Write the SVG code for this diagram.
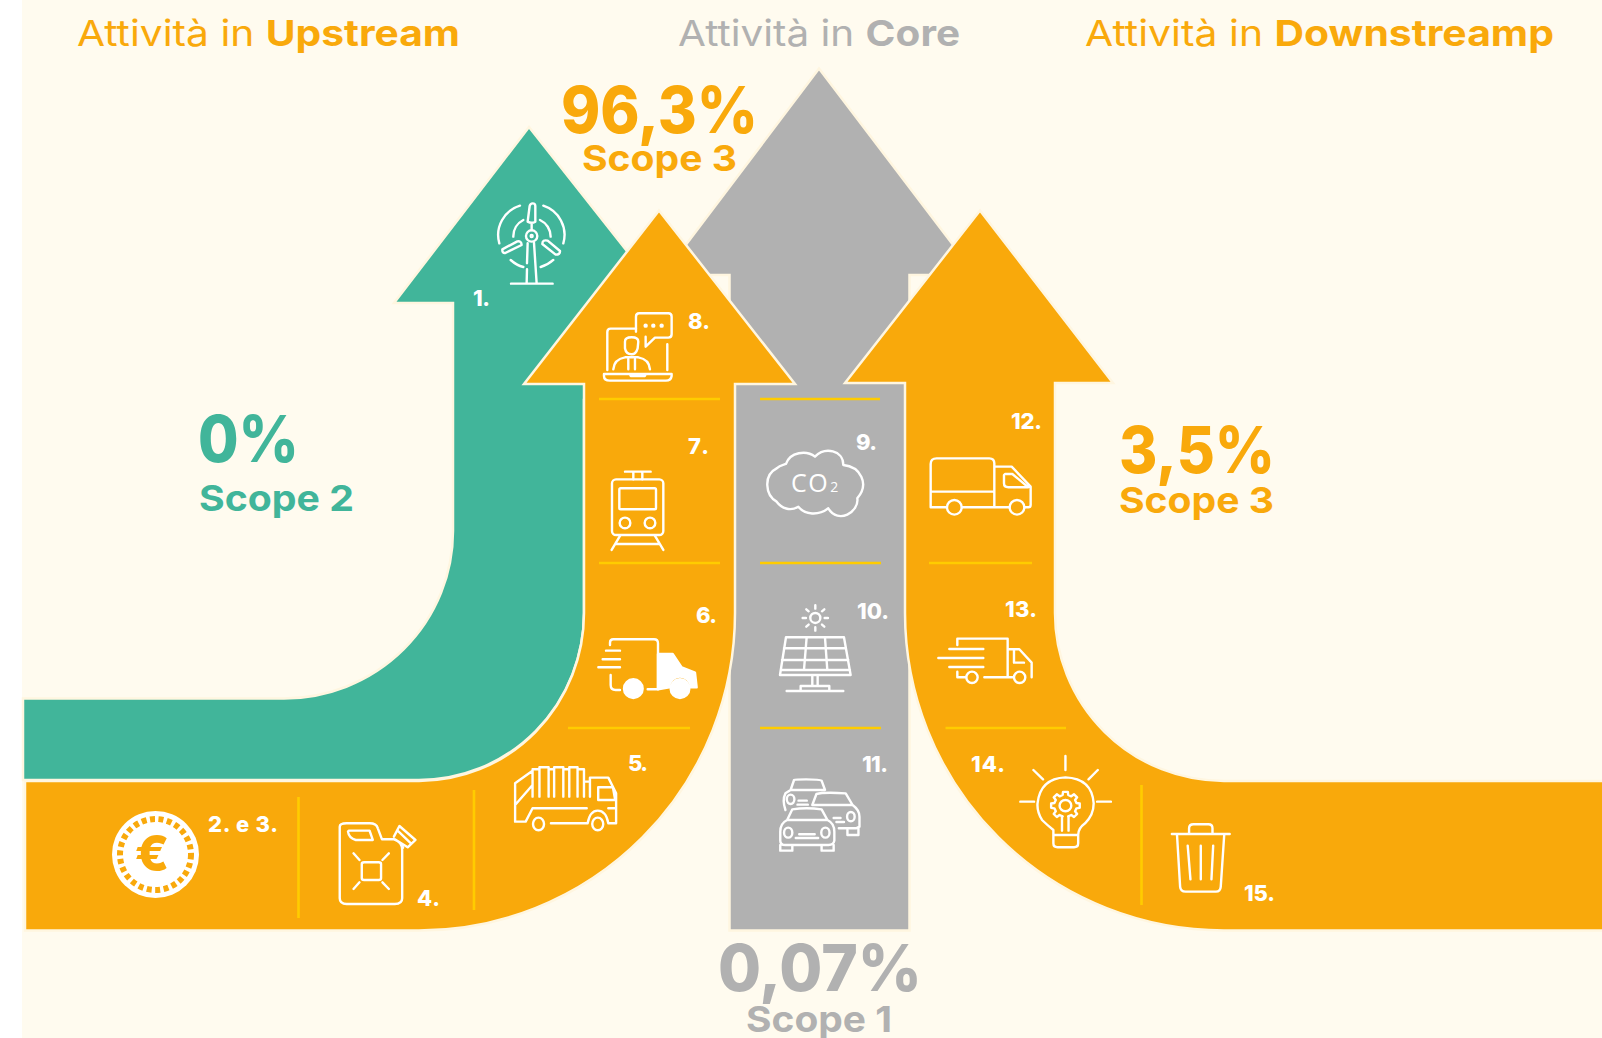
<svg xmlns="http://www.w3.org/2000/svg" width="1602" height="1038" viewBox="0 0 1602 1038">
<style>
text{font-family:Inter,"Open Sans","Liberation Sans",sans-serif}
.h{font-size:36px;font-weight:400}
.b{font-weight:700}
.big{font-size:64px;font-weight:800}
.sc{font-size:36px;font-weight:700}
.n{font-size:22px;font-weight:800;fill:#fff}
.or{fill:#f9a90b}.gr{fill:#41b59a}.gy{fill:#b1b1b1}
.i,.i *{fill:none;stroke:#fff;stroke-width:2.400;stroke-linecap:round;stroke-linejoin:round;vector-effect:non-scaling-stroke}
.i .f{fill:#fff}
.d{stroke:#ffcc00;stroke-width:2.600;fill:none}
.e{stroke:#fff6e0;stroke-width:2.500}
</style>
<rect width="1602" height="1038" fill="#fff"/>
<rect x="22" width="1580" height="1038" fill="#fffbef"/>
<g id="core-arrow"><path class="e" style="fill:#b1b1b1" d="M819 68.500L976 275H909.500V930.500H729.500V275H663Z"/></g>
<g id="upstream-green"><path class="e" style="fill:#41b59a" d="M529 127L668 303V400H584V613A165 167 0 0 1 419 780H23V698.500H284A169 167.500 0 0 0 453 531V303H394Z"/></g>
<g id="upstream-orange"><path class="e" style="fill:#f9a90b" d="M659 210.500L795 384H735V613A316 317.500 0 0 1 419 930.500H25V781H419A165 168 0 0 0 584 613V384H524Z"/></g>
<g id="downstream-orange"><path class="e" style="fill:#f9a90b" d="M980 210.500L1113 383H1055V613A169 168 0 0 0 1224 781H1604V930.500H1224A319 317.500 0 0 1 905 613V383H845Z"/></g>
<g id="dividers">
<path class="d" d="M599 399H720M760 399H880M599 563H720M760 563H881M929 563H1032M568 728H690M760 728H881M945.500 728H1066M298.500 797V918M474 790V910M1141.500 785V905"/>
</g>
<g id="titles">
<text class="h or" x="77" y="46" textLength="383" lengthAdjust="spacingAndGlyphs">Attività in <tspan class="b">Upstream</tspan></text>
<text class="h gy" x="678" y="46" textLength="282" lengthAdjust="spacingAndGlyphs">Attività in <tspan class="b">Core</tspan></text>
<text class="h or" x="1085" y="46" textLength="469" lengthAdjust="spacingAndGlyphs">Attività in <tspan class="b">Downstreamp</tspan></text>
</g>
<g id="scope-upstream"><text class="big or" x="561" y="133" textLength="197" lengthAdjust="spacingAndGlyphs">96,3%</text><text class="sc or" x="582" y="171" textLength="155" lengthAdjust="spacingAndGlyphs">Scope 3</text></g>
<g id="scope-2"><text class="big gr" x="198" y="462" textLength="101" lengthAdjust="spacingAndGlyphs">0%</text><text class="sc gr" x="199" y="511" textLength="155" lengthAdjust="spacingAndGlyphs">Scope 2</text></g>
<g id="scope-downstream"><text class="big or" x="1119" y="473" textLength="156" lengthAdjust="spacingAndGlyphs">3,5%</text><text class="sc or" x="1119" y="513" textLength="155" lengthAdjust="spacingAndGlyphs">Scope 3</text></g>
<g id="scope-1"><text class="big gy" x="718" y="991" textLength="204" lengthAdjust="spacingAndGlyphs">0,07%</text><text class="sc gy" x="746" y="1032" textLength="146" lengthAdjust="spacingAndGlyphs">Scope 1</text></g>

<g id="item-1"><text class="n" x="473" y="306" textLength="17">1.</text>
<g class="i" transform="translate(380 120) scale(.3333)">
<path d="M443 305L449 258Q451 250 458 250Q466 250 466 258V305Q455 312 443 305ZM455 312V330"/><circle cx="455" cy="348" r="17"/><circle cx="455" cy="348" r="3"/>
<path d="M425 375L376 399Q366 400 367 388L412 364Q424 362 425 375ZM487 372L527 404Q541 404 540 393L503 362Q487 358 487 372Z"/>
<path d="M443 370L441 430M441 448L440 490M462 368L470 490M393 491H518M420 257A92 92 0 0 0 358 370M490 257A92 92 0 0 1 550 370M430 300A55 55 0 0 0 400 350M480 300A55 55 0 0 1 512 350M392 420Q410 436 430 441M482 441Q505 434 520 420"/>
</g></g>
<g id="item-8"><text class="n" x="688" y="329" textLength="22">8.</text>
<g class="i" transform="translate(380 120) scale(.3333)">
<path d="M768 635V590Q768 580 778 580H865Q875 580 875 590V643Q875 653 865 653H825L797 680V650"/>
<circle class="f" cx="797" cy="617" r="3"/><circle class="f" cx="820" cy="617" r="3"/><circle class="f" cx="845" cy="617" r="3"/>
<path d="M768 626H692Q682 626 682 636V750M862 673V750M735 665Q735 652 755 652Q775 652 775 665L773 685Q768 703 755 703Q738 703 735 685ZM700 748Q702 718 735 712H775Q808 718 810 748M745 718V748M765 718V748M672 762H875V768Q873 782 858 782H690Q672 782 672 768ZM750 762L752 768H795L797 762"/>
</g></g>
<g id="item-7"><text class="n" x="688" y="454" textLength="21">7.</text>
<g class="i" transform="translate(580 400) scale(.3333)">
<rect x="96" y="238" width="154" height="167" rx="12"/><rect x="118" y="265" width="110" height="63" rx="4"/><circle cx="135" cy="369" r="16"/><circle cx="210" cy="369" r="16"/>
<path d="M135 215H212M160 215V238M187 215V238M120 408L95 450M225 408L250 450M108 432H238"/>
</g></g>
<g id="item-6"><text class="n" x="696" y="623" textLength="21">6.</text>
<g class="i" transform="translate(580 400) scale(.3333)">
<path d="M92 825V855Q92 870 107 870H120M90 735V728Q90 718 100 718H222Q234 718 234 730V868H203M78 752H120M68 778H120M55 802H120"/>
<path class="f" d="M234 762H278L305 802L345 818L350 862H332A32 32 0 0 0 268 862L234 868Z"/>
<circle class="f" cx="160" cy="866" r="28"/><circle class="f" cx="300" cy="866" r="28"/>
</g></g>
<g id="item-5"><text class="n" x="628" y="771" textLength="20">5.</text>
<g class="i" transform="translate(0 680) scale(.4591 .3333)">
<path d="M1122 310V425H1145L1160 385H1278M1122 310L1160 272V350M1122 375L1160 315M1160 268H1175V262H1195V268H1207V262H1227V268H1240V262H1258V268H1272V350M1175 265V350M1195 265V350M1207 265V350M1227 265V350M1240 265V350M1258 265V350M1272 305H1285V293H1325L1342 340V430H1325M1303 322H1335L1340 360H1303ZM1285 300V350M1280 430Q1285 392 1302 392Q1320 392 1325 430M1200 430H1280M1325 385H1342"/>
<ellipse cx="1173" cy="432" rx="12" ry="19"/><ellipse cx="1302" cy="432" rx="12" ry="19"/>
</g></g>
<g id="item-4"><text class="n" x="417" y="906" textLength="23">4.</text>
<g class="i" transform="translate(0 680) scale(.4591 .3333)">
<path d="M740 440Q740 430 755 430H805Q820 430 823 445L832 478H858Q876 485 876 510V655Q876 672 860 672H755Q740 672 740 655ZM760 452H805L812 480H775Q760 475 758 455ZM858 470L870 438L905 480L888 502L860 478M866 452L895 490M878 503L872 490M770 520L783 540M847 520L833 540M770 627L783 607M847 627L833 607"/>
<rect x="788" y="547" width="42" height="53" rx="5"/>
</g></g>
<g id="item-2-3"><text class="n" x="208" y="832" textLength="70">2. e 3.</text>
<circle cx="155.500" cy="854.500" r="43.500" fill="#fff"/><circle cx="155.500" cy="854.500" r="35.500" fill="none" stroke="#f9a90b" stroke-width="6" stroke-dasharray="5 3.500"/>
<text x="152" y="871" text-anchor="middle" font-size="50" font-weight="800" class="or">€</text></g>
<g id="item-9"><text class="n" x="856" y="450" textLength="21">9.</text>
<g class="i" transform="translate(580 400) scale(.3333)">
<path d="M590 305C555 285 550 225 590 205C600 195 610 195 618 192C630 155 680 150 705 170C735 140 790 150 790 195C840 200 870 250 832 295C838 335 775 375 745 325C715 348 675 345 655 320C630 335 605 325 590 305Z"/>
</g>
<text x="791" y="492" font-size="25" font-weight="400" fill="#fff" letter-spacing="1.500" style="font-family:'Open Sans',Inter,sans-serif">CO<tspan font-size="14" dx="1">2</tspan></text></g>
<g id="item-10"><text class="n" x="857" y="619" textLength="32">10.</text>
<g class="i" transform="translate(580 400) scale(.3333)">
<circle cx="706" cy="654" r="15"/><path d="M706 616V626M706 682V692M668 654H678M734 654H744M679 628L686 634M733 628L726 634M679 680L686 674M733 680L726 674M618 712H792L812 825H600ZM612 745H798M606 780H805M602 810H810M680 712L672 810M735 712L742 810M697 825V858M713 825V858M662 870V858H748V870M620 873H790"/>
</g></g>
<g id="item-11"><text class="n" x="862" y="772" textLength="26">11.</text>
<g class="i" transform="translate(720 720) scale(.3444 .3333)">
<path d="M190 270Q180 240 190 220L205 210L215 180Q218 178 250 178Q290 178 295 182L305 210H205M228 242H252M225 254H255M268 255L280 222Q300 216 365 220L385 255ZM385 255Q405 270 405 290V320L395 325H345M370 330V345H402V325M330 294H350M338 306H360M175 335Q175 310 195 300L210 268Q250 262 295 268L312 300Q332 310 332 335V362Q330 375 315 375H190Q175 375 175 362ZM195 300H312M230 343H275M220 354H285M175 375V392H210V378M295 378V392H330V375"/>
<ellipse cx="205" cy="238" rx="11" ry="14"/><ellipse cx="380" cy="290" rx="11" ry="14"/><ellipse cx="198" cy="338" rx="12" ry="15"/><ellipse cx="306" cy="338" rx="12" ry="15"/>
</g></g>
<g id="item-12"><text class="n" x="1011" y="429" textLength="31">12.</text>
<g class="i" transform="translate(900 400) scale(.3333)">
<path d="M92 322V192Q92 175 110 175H268Q283 175 283 190V322M92 275H283M283 200H335L392 260V315Q392 322 385 322H375M315 222H337L385 262H325Q312 262 312 250V225ZM92 322H140M186 322H328"/>
<circle cx="163" cy="322" r="22"/><circle cx="351" cy="322" r="22"/>
</g></g>
<g id="item-13"><text class="n" x="1005" y="617" textLength="32">13.</text>
<g class="i" transform="translate(900 400) scale(.3333)">
<path d="M172 735V716H323V832M253 832H340M172 815V832H198M148 747H250M115 774H250M148 801H250M323 748H358L395 788V832M342 750V788H372"/>
<circle cx="216" cy="832" r="17"/><circle cx="359" cy="832" r="17"/>
</g></g>
<g id="item-14"><text class="n" x="971" y="772" textLength="34">14.</text>
<g class="i" transform="translate(720 720) scale(.3444 .3333)">
<path d="M968 345V330Q950 315 935 300Q920 275 922 250Q930 175 1003 172Q1080 175 1085 250Q1085 285 1060 310Q1040 325 1040 345ZM968 345H1040V370Q1040 382 1028 382H980Q968 382 968 370ZM1003 108V150M910 150L938 178M1097 150L1070 178M872 245H912M1095 245H1135M993 290V332M1012 290V332"/>
<circle cx="1003" cy="257" r="17"/>
<path d="M995 289L986 285L978 291L969 282L975 274L971 265L961.500 263.600V250.400L971 249L975 240L969 232L978 223L986 229L995 225L996 215.500H1010L1011 225L1020 229L1028 223L1037 232L1031 240L1035 249L1044.500 250.400V263.600L1035 265L1031 274L1037 282L1028 291L1020 285L1011 289"/>
</g></g>
<g id="item-15"><text class="n" x="1244" y="901" textLength="31">15.</text>
<g class="i" transform="translate(720 720) scale(.3444 .3333)">
<path d="M1312 342H1480M1362 340V325Q1362 313 1375 313H1418Q1430 313 1430 325V340M1327 345L1336 500Q1337 515 1352 515H1440Q1453 515 1454 500L1464 345M1358 377L1366 478M1396 377V478M1432 377L1427 478"/>
</g></g>
</svg>
